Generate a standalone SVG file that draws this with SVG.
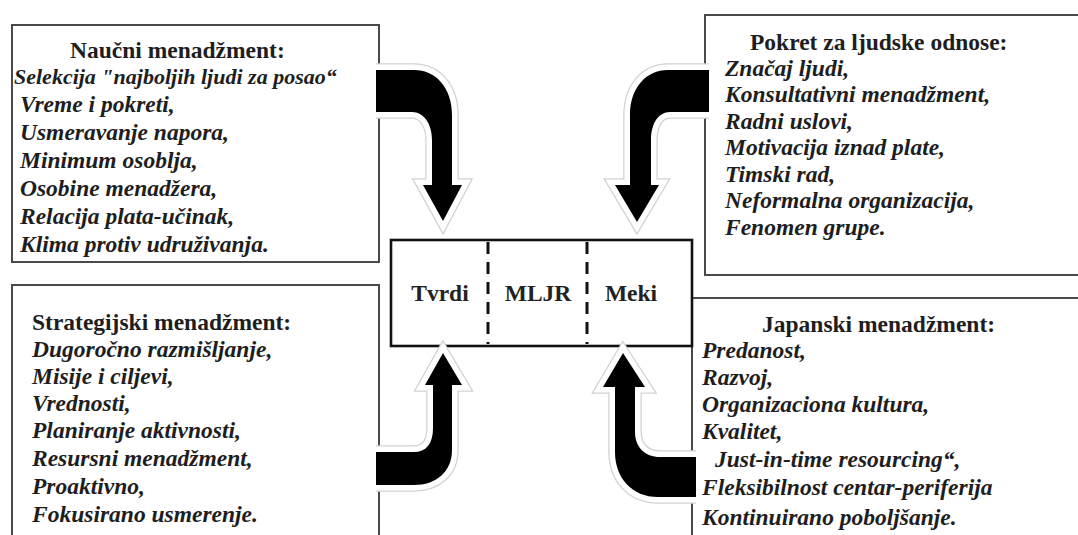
<svg xmlns="http://www.w3.org/2000/svg" xmlns:xlink="http://www.w3.org/1999/xlink" width="1078" height="535" viewBox="0 0 1078 535">
<style>
.box{fill:#fff;stroke:#4a4a4a;stroke-width:2}
.cbox{fill:#fff;stroke:#111;stroke-width:2.6}
.div{stroke:#111;stroke-width:3;stroke-dasharray:12 8}
.title{font-family:"Liberation Serif","Times New Roman",serif;font-weight:bold;font-size:23.5px;fill:#1e1e1e}
.item{font-family:"Liberation Serif","Times New Roman",serif;font-weight:bold;font-style:italic;font-size:23.5px;fill:#1e1e1e}
.lbl{font-family:"Liberation Serif","Times New Roman",serif;font-weight:bold;font-size:23.5px;fill:#222;text-anchor:middle}
.glow{fill:#fff;stroke:#d2d2d2;stroke-width:13.5;stroke-linejoin:miter}
.halo{fill:#fff;stroke:#fff;stroke-width:11;stroke-linejoin:miter}
.arrow{fill:#000;stroke:none}
</style>
<defs>
<path id="aTL" d="M376,70 L414,70 C436,70 452,88 452,115 L452,185 L462,185 L443,221 L423,185 L432,185 L432,140 C432,124 424,112 412,112 L376,112"/>
<path id="aTR" d="M709,70 L668,70 C646,70 630,88 630,115 L630,185 L615,185 L637,222 L659,185 L651,185 L651,140 C651,124 658,112 670,112 L709,112"/>
<path id="aBL" d="M376,452 L414,452 C426,452 433,444 433,428 L433,385 L425,385 L443,353 L462,385 L452,385 L452,450 C452,472 436,485 414,485 L376,485"/>
<path id="aBR" d="M696,457 L660,457 C645,457 635,447 635,432 L635,387 L645,387 L623,353 L603,387 L615,387 L615,452 C615,478 632,497 658,497 L696,497"/>
</defs>
<rect width="1078" height="535" fill="#fff"/>

<g id="node-naucni">
<rect class="box" x="12" y="25" width="367" height="237"/>
<text class="title" x="70" y="58">Naučni menadžment:</text>
<text class="item" x="14" y="84" style="font-size:22px">Selekcija "najboljih ljudi za posao“</text>
<text class="item" x="20" y="112">Vreme i pokreti,</text>
<text class="item" x="20" y="140">Usmeravanje napora,</text>
<text class="item" x="20" y="168">Minimum osoblja,</text>
<text class="item" x="20" y="196">Osobine menadžera,</text>
<text class="item" x="20" y="224">Relacija plata-učinak,</text>
<text class="item" x="20" y="252">Klima protiv udruživanja.</text>
</g>

<g id="node-ljudski">
<rect class="box" x="705" y="15" width="380" height="260"/>
<text class="title" x="750" y="50">Pokret za ljudske odnose:</text>
<text class="item" x="725" y="76">Značaj ljudi,</text>
<text class="item" x="725" y="102">Konsultativni menadžment,</text>
<text class="item" x="725" y="129">Radni uslovi,</text>
<text class="item" x="725" y="155">Motivacija iznad plate,</text>
<text class="item" x="725" y="182">Timski rad,</text>
<text class="item" x="725" y="208">Neformalna organizacija,</text>
<text class="item" x="725" y="235">Fenomen grupe.</text>
</g>

<g id="node-strategijski">
<rect class="box" x="12" y="285" width="367" height="300"/>
<text class="title" x="32" y="330">Strategijski menadžment:</text>
<text class="item" x="32" y="357">Dugoročno razmišljanje,</text>
<text class="item" x="32" y="384">Misije i ciljevi,</text>
<text class="item" x="32" y="411">Vrednosti,</text>
<text class="item" x="32" y="438">Planiranje aktivnosti,</text>
<text class="item" x="32" y="466">Resursni menadžment,</text>
<text class="item" x="32" y="494">Proaktivno,</text>
<text class="item" x="32" y="522">Fokusirano usmerenje.</text>
</g>

<g id="node-japanski">
<rect class="box" x="692" y="298" width="400" height="300"/>
<text class="title" x="762" y="332">Japanski menadžment:</text>
<text class="item" x="702" y="358">Predanost,</text>
<text class="item" x="702" y="385">Razvoj,</text>
<text class="item" x="702" y="412">Organizaciona kultura,</text>
<text class="item" x="702" y="439">Kvalitet,</text>
<text class="item" x="715" y="467">Just-in-time resourcing“,</text>
<text class="item" x="702" y="495">Fleksibilnost centar-periferija</text>
<text class="item" x="702" y="525">Kontinuirano poboljšanje.</text>
</g>

<g id="node-mljr">
<rect class="cbox" x="391" y="240" width="301" height="106"/>
<line class="div" x1="488" y1="242" x2="488" y2="344"/>
<line class="div" x1="587" y1="242" x2="587" y2="344"/>
<text class="lbl" x="440" y="301">Tvrdi</text>
<text class="lbl" x="538" y="301">MLJR</text>
<text class="lbl" x="631" y="301">Meki</text>
</g>

<g id="connectors">
<g id="arrow-naucni"><use xlink:href="#aTL" class="glow"/><use xlink:href="#aTL" class="halo"/><use xlink:href="#aTL" class="arrow"/></g>
<g id="arrow-ljudski"><use xlink:href="#aTR" class="glow"/><use xlink:href="#aTR" class="halo"/><use xlink:href="#aTR" class="arrow"/></g>
<g id="arrow-strategijski"><use xlink:href="#aBL" class="glow"/><use xlink:href="#aBL" class="halo"/><use xlink:href="#aBL" class="arrow"/></g>
<g id="arrow-japanski"><use xlink:href="#aBR" class="glow"/><use xlink:href="#aBR" class="halo"/><use xlink:href="#aBR" class="arrow"/></g>
</g>
</svg>
